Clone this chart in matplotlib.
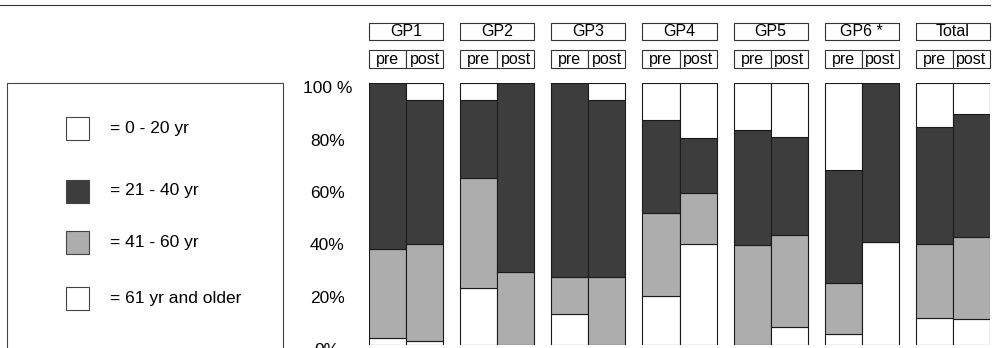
import matplotlib.pyplot as plt
from matplotlib.patches import Rectangle
from matplotlib.transforms import ScaledTranslation
import numpy as np

plt.rcParams['font.family'] = ['Liberation Sans', 'DejaVu Sans']

groups = ['GP1', 'GP2', 'GP3', 'GP4', 'GP5', 'GP6 *', 'Total']

# stacked from the bottom: 61+, 41-60, 21-40, 0-20 (percent)
old61_pre = [2.5, 21.5, 11.7, 18.6, 0.0, 4.1, 10.1]
age41_pre = [34.0, 42.3, 14.1, 31.8, 38.1, 19.4, 28.4]
age21_pre = [63.5, 29.7, 74.2, 35.5, 44.0, 43.3, 44.6]
age0_pre = [0.0, 6.5, 0.0, 14.1, 17.9, 33.2, 16.9]

old61_post = [1.5, 0.0, 0.0, 38.5, 6.9, 39.4, 9.7]
age41_post = [37.0, 27.7, 25.8, 19.6, 35.0, 0.0, 31.6]
age21_post = [55.0, 72.3, 67.7, 20.8, 37.3, 60.6, 46.9]
age0_post = [6.5, 0.0, 6.5, 21.1, 20.8, 0.0, 11.8]

legend_labels = ['= 0 - 20 yr', '= 21 - 40 yr', '= 41 - 60 yr', '= 61 yr and older']
ytick_labels = ['0%', '20%', '40%', '60%', '80%', '100 %']

WHITE = 'white'
DARK = '#3d3d3d'
LIGHT = '#adadad'
EDGE = '#1a1a1a'

W, H = 997, 348
fig = plt.figure(figsize=(W / 100, H / 100), dpi=100)

# axes in pixel placement: left 369, right 990, y 0% at 344.7, 100% at 83
ax = fig.add_axes([369 / W, (H - 344.7) / H, (990 - 369) / W, (344.7 - 83) / H])
bw = 37 / 91.0
x = np.arange(len(groups))

def stack(xpos, parts):
    bottom = np.zeros(len(groups))
    colors = [WHITE, LIGHT, DARK, WHITE]
    for vals, c in zip(parts, colors):
        vals = np.array(vals)
        ax.bar(xpos, vals, bw, bottom=bottom, color=c, edgecolor=EDGE,
               linewidth=0.8, align='center')
        bottom += vals

stack(x - bw / 2, [old61_pre, age41_pre, age21_pre, age0_pre])
stack(x + bw / 2, [old61_post, age41_post, age21_post, age0_post])

ax.set_xlim(-bw, len(groups) - 1 + bw)
ax.set_ylim(0, 100)
for s in ax.spines.values():
    s.set_visible(False)
ax.set_xticks([])
ax.set_yticks([0, 20, 40, 60, 80, 100], labels=ytick_labels, fontsize=12.5)
ax.tick_params(axis='y', length=0, pad=30)
offset = ScaledTranslation(0, -3 / 72, fig.dpi_scale_trans)
for lab in ax.get_yticklabels():
    lab.set_ha('center')
    lab.set_transform(lab.get_transform() + offset)

# header boxes above each group
for i, g in enumerate(groups):
    left = i - bw
    ax.add_patch(Rectangle((left, 116.4), 2 * bw, 6.6, facecolor='white',
                           edgecolor='#333333', linewidth=0.8, clip_on=False))
    ax.text(i, 119.7, g, ha='center', va='center', fontsize=11.5)
    ax.add_patch(Rectangle((left, 105.7), bw, 6.9, facecolor='white',
                           edgecolor='#333333', linewidth=0.8, clip_on=False))
    ax.add_patch(Rectangle((i, 105.7), bw, 6.9, facecolor='white',
                           edgecolor='#333333', linewidth=0.8, clip_on=False))
    ax.text(i - bw / 2, 109.1, 'pre', ha='center', va='center', fontsize=11.5)
    ax.text(i + bw / 2, 109.1, 'post', ha='center', va='center', fontsize=11.5)

# top rule
fig.add_artist(plt.Line2D([0, 990 / W], [(H - 5) / H] * 2, color='#333333',
                          linewidth=0.8))

# legend box
fig.add_artist(Rectangle((7 / W, -0.05), (283 - 7) / W, (H - 83) / H + 0.05,
                         transform=fig.transFigure, facecolor='none',
                         edgecolor='#444444', linewidth=0.8))
leg_colors = [WHITE, DARK, LIGHT, WHITE]
leg_y = [128, 191, 242, 298]
for lab, c, yc in zip(legend_labels, leg_colors, leg_y):
    fig.add_artist(Rectangle((66 / W, (H - yc - 11.5) / H), 23 / W, 23 / H,
                             transform=fig.transFigure, facecolor=c,
                             edgecolor='#444444', linewidth=0.8))
    fig.text(110 / W, (H - yc) / H, lab, ha='left', va='center', fontsize=12.5)

fig.savefig('out.png', dpi=100)
